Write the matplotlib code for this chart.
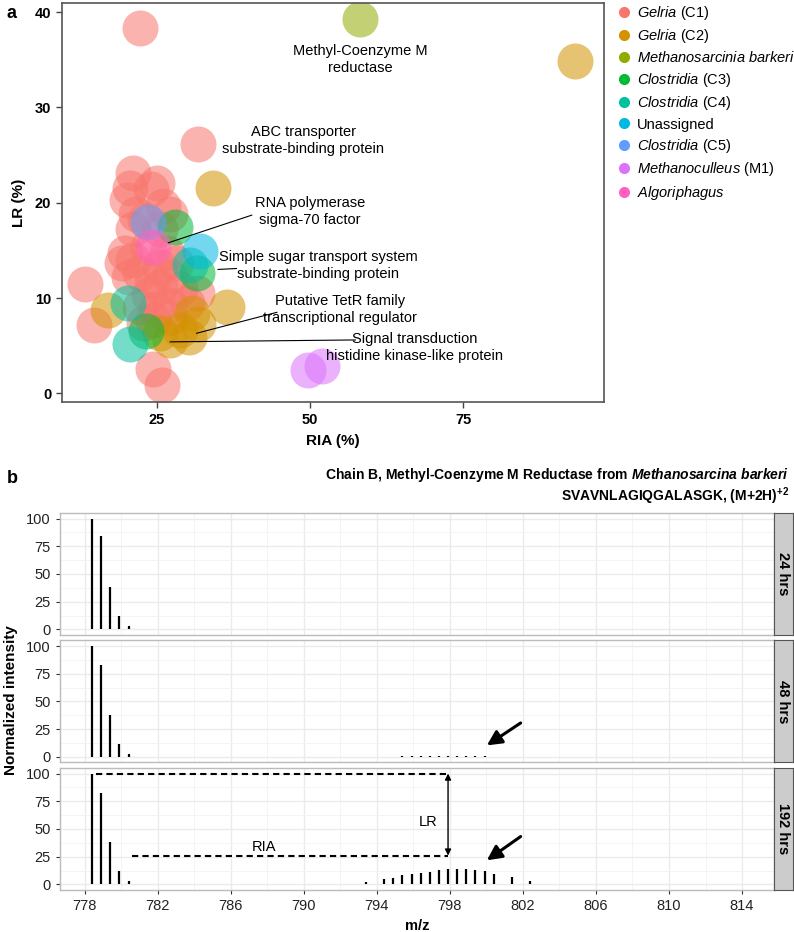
import numpy as np
import matplotlib
matplotlib.use("Agg")
import matplotlib.pyplot as plt
from matplotlib.lines import Line2D

plt.rcParams['font.family'] = ['Liberation Sans', 'DejaVu Sans']
plt.rcParams['mathtext.fontset'] = 'custom'
plt.rcParams['mathtext.rm'] = 'Liberation Sans'
plt.rcParams['mathtext.it'] = 'Liberation Sans:italic'
plt.rcParams['mathtext.bf'] = 'Liberation Sans:bold'
plt.rcParams['mathtext.bfit'] = 'Liberation Sans:italic:bold'

# ---- panel a: RIA vs LR per protein, coloured by taxon ----
groups = [
    r"$\it{Gelria}$ (C1)",
    r"$\it{Gelria}$ (C2)",
    r"$\it{Methanosarcinia\ barkeri}$",
    r"$\it{Clostridia}$ (C3)",
    r"$\it{Clostridia}$ (C4)",
    "Unassigned",
    r"$\it{Clostridia}$ (C5)",
    r"$\it{Methanoculleus}$ (M1)",
    r"$\it{Algoriphagus}$",
]
colors = ["#F8766D", "#D39200", "#93AA00", "#00BA38", "#00C19F",
          "#00B9E3", "#619CFF", "#DB72FB", "#FF61C3"]

ria_c1 = [22.3, 31.8, 21.2, 20.6, 25.0, 24.0, 20.1, 26.1, 21.7, 27.2,
          23.1, 21.2, 25.5, 19.8, 19.3, 21.2, 23.6, 26.6, 28.2, 25.5,
          22.3, 24.2, 27.2, 20.4, 23.8, 25.5, 28.8, 31.5, 22.3, 24.9,
          27.2, 29.9, 24.4, 27.2, 23.0, 13.3, 14.7, 24.4, 25.8]
lr_c1 = [38.3, 26.2, 23.1, 21.5, 22.1, 21.4, 20.3, 19.7, 18.8, 18.8,
         18.2, 17.2, 17.2, 14.7, 13.7, 14.0, 15.4, 14.7, 13.7, 13.3,
         12.6, 11.9, 12.2, 12.2, 10.3, 11.2, 10.9, 10.5, 9.1, 8.8,
         9.3, 9.5, 7.7, 8.0, 7.4, 11.5, 7.2, 2.6, 0.9]
ria_c2 = [93.2, 34.2, 17.1, 36.4, 25.5, 27.2, 30.2, 31.8, 30.7, 28.8]
lr_c2 = [34.9, 21.5, 8.75, 9.05, 6.3, 5.6, 5.9, 7.3, 8.4, 6.6]
ria_mb = [58.2]
lr_mb = [39.3]
ria_c3 = [28.0, 31.5, 23.2]
lr_c3 = [17.5, 12.6, 6.5]
ria_c4 = [20.6, 20.3, 30.5]
lr_c4 = [5.2, 9.5, 13.5]
ria_un = [32.1]
lr_un = [14.9]
ria_c5 = [23.6]
lr_c5 = [18.0]
ria_m1 = [49.7, 51.9]
lr_m1 = [2.4, 2.9]
ria_al = [24.4]
lr_al = [15.4]

ria_all = [ria_c1, ria_c2, ria_mb, ria_c3, ria_c4, ria_un, ria_c5, ria_m1, ria_al]
lr_all = [lr_c1, lr_c2, lr_mb, lr_c3, lr_c4, lr_un, lr_c5, lr_m1, lr_al]

notes = [
    ("Methyl-Coenzyme M\nreductase", 58.2, 35.0, None),
    ("ABC transporter\nsubstrate-binding protein", 48.9, 26.5, None),
    ("RNA polymerase\nsigma-70 factor", 50.0, 19.1, ((26.9, 15.8), (40.5, 18.7))),
    ("Simple sugar transport system\nsubstrate-binding protein", 51.3, 13.4, ((35.0, 13.0), (38.0, 13.1))),
    ("Putative TetR family\ntranscriptional regulator", 54.9, 8.8, ((31.5, 6.3), (44.6, 8.5))),
    ("Signal transduction\nhistidine kinase-like protein", 67.0, 4.8, ((27.2, 5.4), (57.4, 5.6))),
]

# ---- panel b: isotope envelopes ----
mz_24 = [778.4, 778.9, 779.4, 779.9, 780.4, 780.9]
int_24 = [100, 84, 38, 12, 3, 0.6]
mz_48 = [778.4, 778.9, 779.4, 779.9, 780.4,
         795.4, 795.9, 796.4, 796.9, 797.4, 797.9, 798.4, 798.9, 799.4, 799.9]
int_48 = [100, 83, 38, 12, 3,
          0.4, 0.7, 0.8, 0.8, 0.8, 0.8, 0.8, 0.8, 0.8, 0.7]
mz_192 = [778.4, 778.9, 779.4, 779.9, 780.4,
          793.4, 794.4, 794.9, 795.4, 795.9, 796.4, 796.9, 797.4, 797.9,
          798.4, 798.9, 799.4, 799.9, 800.4, 801.4, 802.4]
int_192 = [100, 82, 38, 12, 3,
           2.0, 4.7, 5.6, 8.3, 9.5, 10.4, 11.5, 13.0, 14.2,
           13.6, 13.9, 13.0, 11.8, 9.8, 6.5, 3.5]
panels = [("24 hrs", mz_24, int_24), ("48 hrs", mz_48, int_48), ("192 hrs", mz_192, int_192)]


def main():
  fig = plt.figure(figsize=(7.94, 9.32), dpi=100)

  ax = fig.add_axes([0.0777, 0.5683, 0.6834, 0.4288])
  for lab, col, xs, ys in zip(groups, colors, ria_all, lr_all):
    ax.scatter(xs, ys, s=672, color=col, alpha=0.55, linewidths=0)
  for txt, x, y, seg in notes:
    ax.text(x, y, txt, ha="center", va="center", fontsize=10.5, linespacing=1.25)
    if seg is not None:
      ax.plot([seg[0][0], seg[1][0]], [seg[0][1], seg[1][1]], color="black", lw=0.8)
  ax.set_xlim(9.5, 98)
  ax.set_ylim(-0.95, 41.0)
  ax.set_xticks([25, 50, 75])
  ax.set_yticks([0, 10, 20, 30, 40])
  for lab in ax.get_xticklabels() + ax.get_yticklabels():
    lab.set_fontweight("bold")
  ax.tick_params(labelsize=10.5, length=4, color="#444444", width=1)
  for sp in ax.spines.values():
    sp.set_color("#555555")
    sp.set_linewidth(1.2)
  ax.set_xlabel("RIA (%)", fontweight="bold", fontsize=11, labelpad=5)
  ax.set_ylabel("LR (%)", fontweight="bold", fontsize=11, labelpad=6)

  handles = [Line2D([], [], marker="o", ls="", color=c, markersize=7) for c in colors]
  ax.legend(handles, groups, loc="upper left", bbox_to_anchor=(1.018, 1.005),
            frameon=False, fontsize=10.5, handletextpad=0.35, labelspacing=0.37,
            handlelength=1.0, borderaxespad=0.0, borderpad=0.2)

  fig.text(0.008, 0.986, "a", fontsize=13, fontweight="bold", va="center")
  fig.text(0.008, 0.487, "b", fontsize=13, fontweight="bold", va="center")

  fig.text(0.994, 1 - 475 / 932,
           r"Chain B, Methyl-Coenzyme M Reductase from $\mathbfit{Methanosarcina\ barkeri}$",
           ha="right", va="center", fontsize=10, fontweight="bold")
  fig.text(0.994, 1 - 496 / 932, r"SVAVNLAGIQGALASGK, (M+2H)$^{\mathbf{+2}}$",
           ha="right", va="center", fontsize=10, fontweight="bold")

  bottoms = [0.3187, 0.1819, 0.0451]
  axes = []
  for (name, mz, inten), b in zip(panels, bottoms):
    a = fig.add_axes([0.0756, b, 0.8992, 0.1309])
    a.set_xlim(776.65, 815.75)
    a.set_ylim(-5, 105)
    a.set_xticks(np.arange(778, 815, 4))
    a.set_xticks(np.arange(780, 816, 4), minor=True)
    a.set_yticks([0, 25, 50, 75, 100])
    a.set_yticks([12.5, 37.5, 62.5, 87.5], minor=True)
    a.grid(True, which="major", color="#EBEBEB", lw=1.0)
    a.grid(True, which="minor", color="#F4F4F4", lw=0.7)
    a.set_axisbelow(True)
    a.vlines(mz, 0, inten, color="black", lw=1.6)
    for sp in a.spines.values():
      sp.set_color("#BBBBBB")
      sp.set_linewidth(1.0)
    a.tick_params(which="minor", length=0)
    a.tick_params(which="major", length=3, color="#333333", labelsize=10.5)
    for lab in a.get_xticklabels() + a.get_yticklabels():
      lab.set_color("#222222")
    if name != "192 hrs":
      a.tick_params(axis="x", which="both", length=0, labelbottom=False)

    s = fig.add_axes([0.0756 + 0.8992, b, 0.0239, 0.1309])
    s.set_facecolor("#CCCCCC")
    s.set_xticks([])
    s.set_yticks([])
    for sp in s.spines.values():
      sp.set_color("#555555")
      sp.set_linewidth(0.8)
    s.text(0.5, 0.5, name, rotation=270, ha="center", va="center",
           fontsize=10.5, fontweight="bold", transform=s.transAxes)
    axes.append(a)

  a48, a192 = axes[1], axes[2]
  a48.annotate("", xy=(799.9, 9), xytext=(802.0, 32),
               arrowprops=dict(arrowstyle="-|>", color="black", lw=2.2, mutation_scale=22))
  a192.annotate("", xy=(799.9, 20.3), xytext=(802.0, 44.6),
                arrowprops=dict(arrowstyle="-|>", color="black", lw=2.2, mutation_scale=22))
  a192.plot([778.6, 797.9], [100, 100], color="black", lw=1.5, ls=(0, (3, 2)))
  a192.plot([780.6, 797.9], [26, 26], color="black", lw=1.5, ls=(0, (3, 2)))
  a192.annotate("", xy=(797.9, 100), xytext=(797.9, 26),
                arrowprops=dict(arrowstyle="<|-|>", color="black", lw=1.0,
                                mutation_scale=9, shrinkA=0, shrinkB=0))
  a192.text(796.8, 56.5, "LR", ha="center", va="center", fontsize=10.5)
  a192.text(787.8, 33.6, "RIA", ha="center", va="center", fontsize=10.5)
  a192.set_xlabel("m/z", fontweight="bold", fontsize=10.5, labelpad=4)

  fig.text(0.014, 1 - 700 / 932, "Normalized intensity", rotation=90, ha="center",
           va="center", fontsize=11, fontweight="bold")

  fig.savefig("out.png", dpi=100)


if __name__ == "__main__":
  main()
